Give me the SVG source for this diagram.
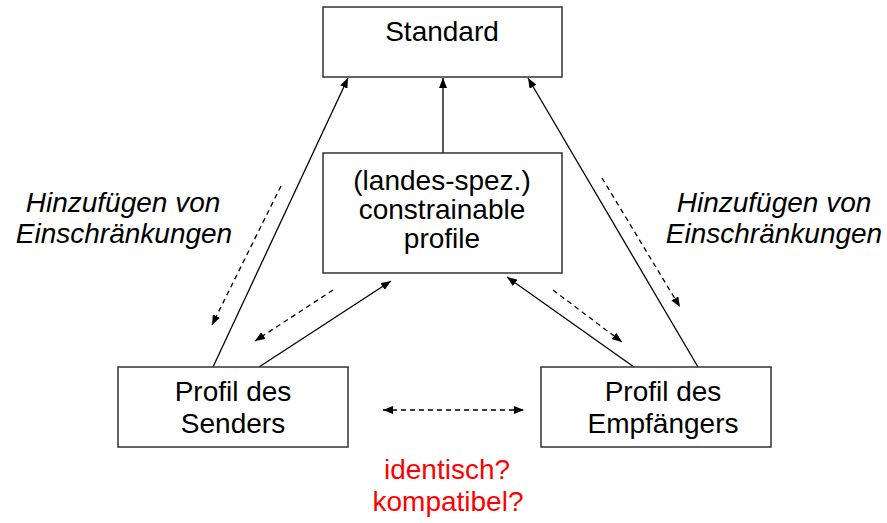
<svg xmlns="http://www.w3.org/2000/svg" width="887" height="523" viewBox="0 0 887 523">
  <style>
    .box { fill: #ffffff; stroke: #333333; stroke-width: 1.5; }
    .lbl { font-family: "Liberation Sans", Arial, sans-serif; font-size: 28px; fill: #000000; text-anchor: middle; }
    .note { font-style: italic; }
    .red { fill: #ff0000; }
    .solid { stroke: #000000; stroke-width: 1.3; fill: none; marker-end: url(#head); }
    .dash { stroke: #000000; stroke-width: 1.3; fill: none; stroke-dasharray: 5 4; marker-end: url(#head); }
  </style>
  <defs>
    <marker id="head" markerUnits="userSpaceOnUse" markerWidth="10" markerHeight="8" refX="10" refY="4" orient="auto-start-reverse">
      <path d="M0,0 L10,4 L0,8 z" fill="#000000"/>
    </marker>
  </defs>

  <rect width="887" height="523" fill="#ffffff"/>

  <!-- connectors -->
  <g id="connectors">
    <line class="solid" x1="213" y1="367" x2="348" y2="78"/>
    <line class="solid" x1="259" y1="367" x2="391" y2="281"/>
    <line class="solid" x1="443" y1="153" x2="443" y2="78"/>
    <line class="solid" x1="698" y1="367" x2="528" y2="78"/>
    <line class="solid" x1="634" y1="367" x2="507" y2="277"/>
    <line class="dash" x1="281" y1="186" x2="212" y2="325"/>
    <line class="dash" x1="333" y1="290" x2="255" y2="341"/>
    <line class="dash" x1="602" y1="178" x2="680" y2="307"/>
    <line class="dash" x1="553" y1="290" x2="622" y2="342"/>
    <line class="dash" x1="383" y1="410" x2="524" y2="410" style="marker-start: url(#head);"/>
  </g>

  <!-- nodes -->
  <g id="standard">
    <rect class="box" x="323" y="7" width="239" height="70"/>
    <text class="lbl" x="442" y="41">Standard</text>
  </g>

  <g id="constrainable-profile">
    <rect class="box" x="323" y="153" width="239" height="120"/>
    <text class="lbl" x="442" y="190">(landes-spez.)</text>
    <text class="lbl" x="442" y="219">constrainable</text>
    <text class="lbl" x="442" y="248">profile</text>
  </g>

  <g id="profil-sender">
    <rect class="box" x="118" y="367" width="230" height="80"/>
    <text class="lbl" x="233" y="401">Profil des</text>
    <text class="lbl" x="233" y="433">Senders</text>
  </g>

  <g id="profil-empfaenger">
    <rect class="box" x="541" y="367" width="230" height="80"/>
    <text class="lbl" x="663" y="401">Profil des</text>
    <text class="lbl" x="663" y="433">Empfängers</text>
  </g>

  <!-- annotations -->
  <g id="note-left">
    <text class="lbl note" x="123" y="212">Hinzufügen von</text>
    <text class="lbl note" x="124" y="243">Einschränkungen</text>
  </g>
  <g id="note-right">
    <text class="lbl note" x="774" y="212">Hinzufügen von</text>
    <text class="lbl note" x="774" y="243">Einschränkungen</text>
  </g>
  <g id="note-bottom">
    <text class="lbl red" x="447" y="479">identisch?</text>
    <text class="lbl red" x="448" y="511">kompatibel?</text>
  </g>
</svg>
